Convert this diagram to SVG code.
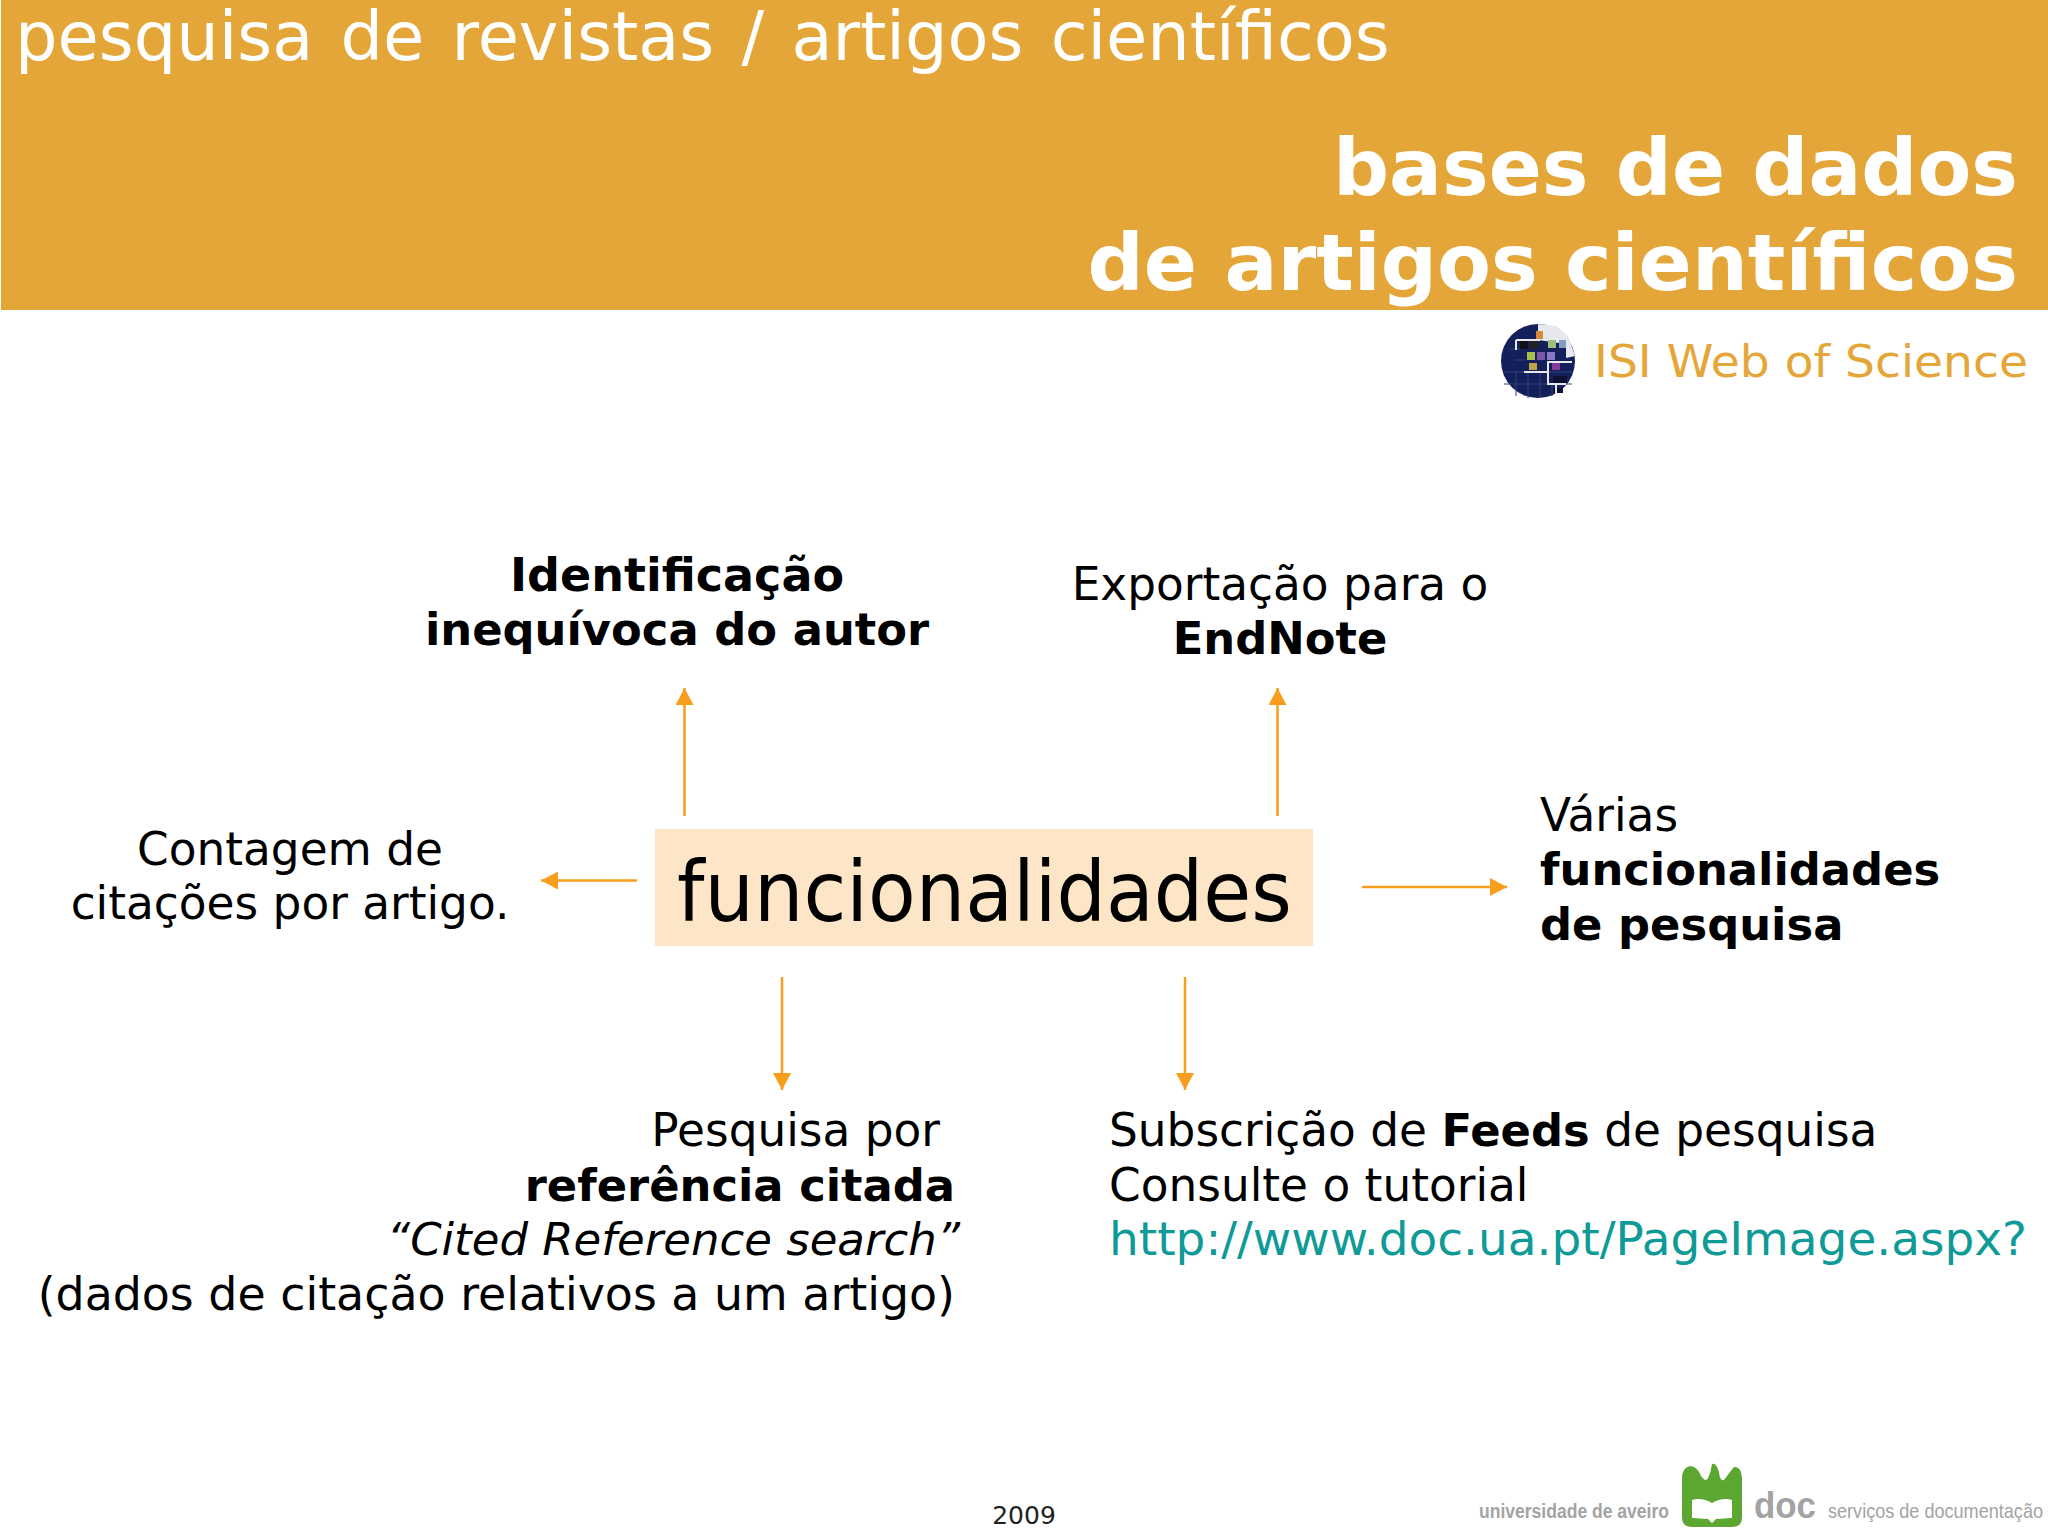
<svg xmlns="http://www.w3.org/2000/svg" width="2048" height="1536" viewBox="0 0 2048 1536">
<style>
text{font-family:"DejaVu Sans",Verdana,sans-serif}
.b{font-size:45.4px;fill:#000}
.h{font-weight:700;font-size:44.8px}
.ln{stroke:#f99d1c;stroke-width:2.5;fill:none}
.g{font-family:"Liberation Sans",Arial,sans-serif;fill:#a3a3a3}
.w{stroke:#e8e8ee;stroke-width:2;fill:none}
.d{stroke:#33407a;stroke-width:1;fill:none}
</style>
<defs>
<marker id="ah" markerUnits="userSpaceOnUse" markerWidth="18" markerHeight="18" refX="17" refY="9" orient="auto"><path d="M0 0L17 9L0 18Z" fill="#f99d1c"/></marker>
</defs>
<rect width="2048" height="1536" fill="#fff"/>
<g id="header">
<rect x="1" y="0" width="2047" height="310" fill="#e5a639"/>
<text x="15" y="60" font-size="67" fill="#fff" word-spacing="6">pesquisa de revistas / artigos científicos</text>
<text x="2018" y="195" font-size="78.4" fill="#fff" text-anchor="end" font-weight="700">bases de dados</text>
<text x="2018" y="290" font-size="78.6" fill="#fff" text-anchor="end" font-weight="700">de artigos científicos</text>
</g>
<g id="isi">
<circle cx="1538" cy="361" r="37" fill="#14205a"/>
<path class="d" d="M1504 372H1572M1504 384H1572M1510 349H1520M1514 360H1526M1516 372V396M1528 372V398M1540 372V398M1552 384V396"/>
<path d="M1538 324L1556 326L1568 336L1575 356L1566 358L1566 344L1538 340Z" fill="#e6e8ee"/>
<g><rect x="1520" y="341" width="8" height="8" fill="#111"/><rect x="1530" y="341" width="8" height="8" fill="#222"/><rect x="1527" y="352" width="8" height="8" fill="#a5bf4a"/><rect x="1537" y="352" width="8" height="8" fill="#7b55a8"/><rect x="1547" y="352" width="8" height="8" fill="#8a78c8"/><rect x="1529" y="363" width="8" height="7" fill="#b9a545"/><rect x="1552" y="363" width="8" height="7" fill="#8a3a9c"/><rect x="1536" y="331" width="7" height="8" fill="#d88a3a"/><rect x="1548" y="340" width="8" height="8" fill="#9fc07a"/><rect x="1559" y="340" width="7" height="8" fill="#7f9ec0"/><rect x="1553" y="376" width="14" height="7" fill="#0d1233"/><rect x="1553" y="388" width="10" height="5" fill="#0d1233"/></g>
<path class="w" d="M1516 340H1540M1516 340V350M1524 372H1548V362H1572M1548 372L1548 384H1566M1556 384V394"/>
<text x="1594" y="377" font-size="45" fill="#e5a639" textLength="434" lengthAdjust="spacingAndGlyphs">ISI Web of Science</text>
</g>
<g id="connectors">
<line class="ln" x1="684.5" y1="816" x2="684.5" y2="688" marker-end="url(#ah)"/>
<line class="ln" x1="1277.5" y1="816" x2="1277.5" y2="688" marker-end="url(#ah)"/>
<line class="ln" x1="637" y1="880.5" x2="541" y2="880.5" marker-end="url(#ah)"/>
<line class="ln" x1="1362" y1="887" x2="1507" y2="887" marker-end="url(#ah)"/>
<line class="ln" x1="782" y1="977" x2="782" y2="1090" marker-end="url(#ah)"/>
<line class="ln" x1="1185" y1="977" x2="1185" y2="1090" marker-end="url(#ah)"/>
</g>
<g id="center">
<rect x="655" y="829" width="658" height="117" fill="#fde6c8"/>
<text x="677" y="921" font-size="84" fill="#000" textLength="615" lengthAdjust="spacingAndGlyphs">funcionalidades</text>
</g>
<g id="n-identificacao">
<text x="677" y="591" class="b h" style="font-size:46px" text-anchor="middle">Identificação</text>
<text x="677" y="645" class="b h" text-anchor="middle">inequívoca do autor</text>
</g>
<g id="n-exportacao">
<text x="1280" y="600" class="b" text-anchor="middle">Exportação para o</text>
<text x="1280" y="654" class="b h" text-anchor="middle">EndNote</text>
</g>
<g id="n-contagem">
<text x="290" y="865" class="b" text-anchor="middle">Contagem de</text>
<text x="290" y="919" class="b" text-anchor="middle">citações por artigo.</text>
</g>
<g id="n-varias">
<text x="1540" y="831" class="b">Várias</text>
<text x="1540" y="885" class="b h">funcionalidades</text>
<text x="1540" y="940" class="b h">de pesquisa</text>
</g>
<g id="n-citada">
<text x="940" y="1146" class="b" text-anchor="end">Pesquisa por</text>
<text x="955" y="1201" class="b h" text-anchor="end">referência citada</text>
<text x="960" y="1255" class="b" font-style="italic" style="font-size:45px" text-anchor="end">“Cited Reference search”</text>
<text x="955" y="1310" class="b" style="font-size:45.85px" text-anchor="end">(dados de citação relativos a um artigo)</text>
</g>
<g id="n-feeds">
<text x="1109" y="1146" class="b">Subscrição de <tspan class="h">Feeds</tspan> de pesquisa</text>
<text x="1109" y="1201" class="b">Consulte o tutorial</text>
<text x="1109" y="1255" class="b" style="fill:#0e9a96" textLength="918" lengthAdjust="spacingAndGlyphs">http://www.doc.ua.pt/PageImage.aspx?</text>
</g>
<text id="year" x="1024" y="1524" font-size="25" text-anchor="middle" fill="#222">2009</text>
<g id="logo">
<text x="1479" y="1518" font-size="20" font-weight="700" class="g" textLength="190" lengthAdjust="spacingAndGlyphs">universidade de aveiro</text>
<path d="M1682 1478Q1682 1468 1690 1466Q1697 1466 1701 1476Q1706 1483 1708 1478Q1711 1472 1712 1464Q1716 1462 1719 1472Q1720 1482 1724 1480Q1730 1472 1734 1467Q1741 1466 1742 1478L1742 1517Q1742 1527 1732 1527L1692 1527Q1682 1527 1682 1517Z" fill="#5ba731"/>
<path d="M1692 1500Q1702 1497 1712 1503Q1722 1497 1732 1500L1732 1518L1716 1519L1712 1523L1708 1519L1692 1518Z" fill="#fff"/>
<text x="1754" y="1518" font-size="37" font-weight="700" class="g" textLength="62" lengthAdjust="spacingAndGlyphs">doc</text>
<text x="1828" y="1518" font-size="21" class="g" textLength="215" lengthAdjust="spacingAndGlyphs">serviços de documentação</text>
</g>
</svg>
